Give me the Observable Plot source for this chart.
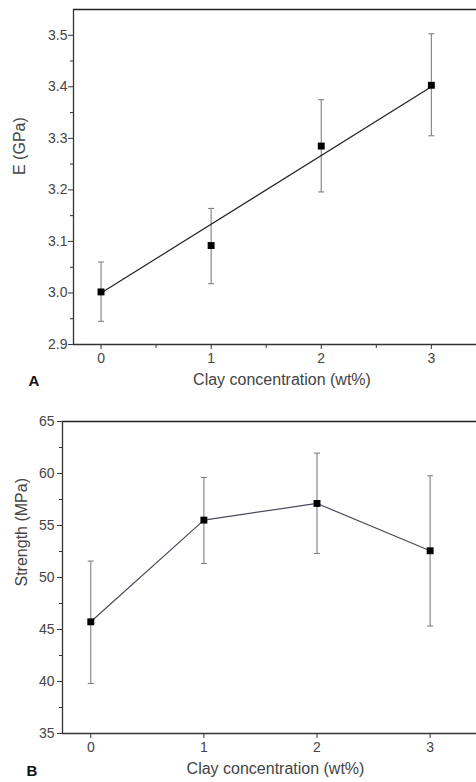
<!DOCTYPE html>
<html>
<head>
<meta charset="utf-8">
<script src="https://cdn.jsdelivr.net/npm/d3@7"></script>
<script src="https://cdn.jsdelivr.net/npm/@observablehq/plot@0.6"></script>
<style>
  html, body { margin: 0; padding: 0; background: #fff; }
  #wrap { width: 476px; height: 782px; position: relative; overflow: hidden; font-family: "Liberation Sans", Arial, sans-serif; }
  #wrap svg { display: block; }
</style>
</head>
<body>
<div id="wrap"></div>
<script>
// ---- shared ----
const clayConc = [0, 1, 2, 3];
const xTickLabels = ["0", "1", "2", "3"];
const xTitle = "Clay concentration (wt%)";

// ---- panel A: modulus ----
const modulusE = [3.002, 3.092, 3.285, 3.403];
const modulusLow = [2.945, 3.018, 3.196, 3.305];
const modulusHigh = [3.060, 3.164, 3.375, 3.503];
const fitX = [0, 3];
const fitE = [3.0, 3.40];
const yTicksA = [2.9, 3.0, 3.1, 3.2, 3.3, 3.4, 3.5];
const yMinorA = [2.95, 3.05, 3.15, 3.25, 3.35, 3.45];
const xMinorA = [0.5, 1.5, 2.5];
const yDomainA = [2.9, 3.55];
const yTitleA = "E (GPa)";
const panelA = "A";

// ---- panel B: strength ----
const strength = [45.74, 55.52, 57.12, 52.57];
const strengthLow = [39.81, 51.35, 52.31, 45.33];
const strengthHigh = [51.58, 59.62, 61.96, 59.78];
const yTicksB = [35, 40, 45, 50, 55, 60, 65];
const yMinorB = [37.5, 42.5, 47.5, 52.5, 57.5, 62.5];
const yDomainB = [35, 65];
const yTitleB = "Strength (MPa)";
const panelB = "B";

const xDomain = [-0.25, 3.41];

const capSymbol = {
  draw(ctx, size) {
    const w = Math.sqrt(size / Math.PI);
    ctx.moveTo(-w, 0);
    ctx.lineTo(w, 0);
  }
};

function panel(opts) {
  const rows = clayConc.map((c, i) => ({x: c, y: opts.y[i], lo: opts.lo[i], hi: opts.hi[i]}));
  const lineData = opts.line;
  return Plot.plot({
    width: 476,
    height: opts.height,
    marginTop: opts.mt,
    marginBottom: opts.mb,
    marginLeft: opts.ml,
    marginRight: 0,
    style: {fontFamily: '"Liberation Sans", Arial, sans-serif', background: "#fff"},
    x: {domain: xDomain},
    y: {domain: opts.yDomain},
    marks: [
      Plot.ruleY([opts.yDomain[1]], {stroke: "#222", strokeWidth: 1.3}),
      Plot.ruleY([opts.yDomain[0]], {stroke: "#333", strokeWidth: 1.3}),
      Plot.ruleX([xDomain[0]], {stroke: "#333", strokeWidth: 1.3}),
      Plot.axisX(clayConc, {tickSize: 5, tickPadding: 4, fontSize: 14, fill: "#444", stroke: "#333",
        tickFormat: (d) => xTickLabels[clayConc.indexOf(d)], label: null}),
      opts.xMinor ? Plot.axisX(opts.xMinor, {tickSize: 4, stroke: "#333", tickFormat: () => "", label: null}) : null,
      Plot.axisY(opts.yTicks, {tickSize: 5, tickPadding: opts.tp, fontSize: 14, fill: "#444", stroke: "#333",
        tickFormat: opts.fmt, label: null}),
      Plot.axisY(opts.yMinor, {tickSize: 3, stroke: "#333", tickFormat: () => "", label: null}),
      Plot.link(rows, {x1: "x", x2: "x", y1: "lo", y2: "hi", stroke: "#808080", strokeWidth: 1.1}),
      Plot.dot(rows, {x: "x", y: "lo", symbol: capSymbol, r: 3, stroke: "#808080", strokeWidth: 1.1, fill: "none"}),
      Plot.dot(rows, {x: "x", y: "hi", symbol: capSymbol, r: 3, stroke: "#808080", strokeWidth: 1.1, fill: "none"}),
      Plot.line(lineData, {x: "x", y: "y", stroke: opts.lineColor, strokeWidth: 1.2}),
      Plot.dot(rows, {x: "x", y: "y", symbol: "square", r: 3.9, fill: "#000", stroke: "none"}),
      Plot.text([opts.xTitleText], {frameAnchor: "bottom", dy: opts.xTitleDy, dx: opts.xTitleDx, fontSize: 16, fill: "#444"}),
      Plot.text([opts.yTitleText], {frameAnchor: "left", dx: opts.yTitleDx, dy: opts.yTitleDy, rotate: -90, fontSize: 16, fill: "#444"}),
      Plot.text([opts.panelLabel], {frameAnchor: "bottom-left", dx: opts.pdx, dy: opts.pdy, fontSize: 15, fontWeight: "bold", fill: "#111"})
    ]
  });
}

const wrap = document.getElementById("wrap");

const rowsLineA = fitX.map((x, i) => ({x, y: fitE[i]}));
wrap.appendChild(panel({
  height: 394, mt: 9, mb: 50, ml: 73, tp: 1,
  y: modulusE, lo: modulusLow, hi: modulusHigh,
  line: rowsLineA, lineColor: "#222",
  yDomain: yDomainA, yTicks: yTicksA, yMinor: yMinorA, xMinor: xMinorA,
  fmt: d3.format(".1f"),
  xTitleText: xTitle, xTitleDy: 40, xTitleDx: 7,
  yTitleText: yTitleA, yTitleDx: -54, yTitleDy: -2,
  panelLabel: panelA, pdx: -45, pdy: 41
}));

const rowsLineB = clayConc.map((x, i) => ({x, y: strength[i]}));
wrap.appendChild(panel({
  height: 388, mt: 27, mb: 49, ml: 62, tp: 3,
  y: strength, lo: strengthLow, hi: strengthHigh,
  line: rowsLineB, lineColor: "#4a4a5c",
  yDomain: yDomainB, yTicks: yTicksB, yMinor: yMinorB, xMinor: null,
  fmt: d3.format("d"),
  xTitleText: xTitle, xTitleDy: 40, xTitleDx: 6,
  yTitleText: yTitleB, yTitleDx: -41, yTitleDy: 9,
  panelLabel: panelB, pdx: -36, pdy: 42
}));
</script>
</body>
</html>
